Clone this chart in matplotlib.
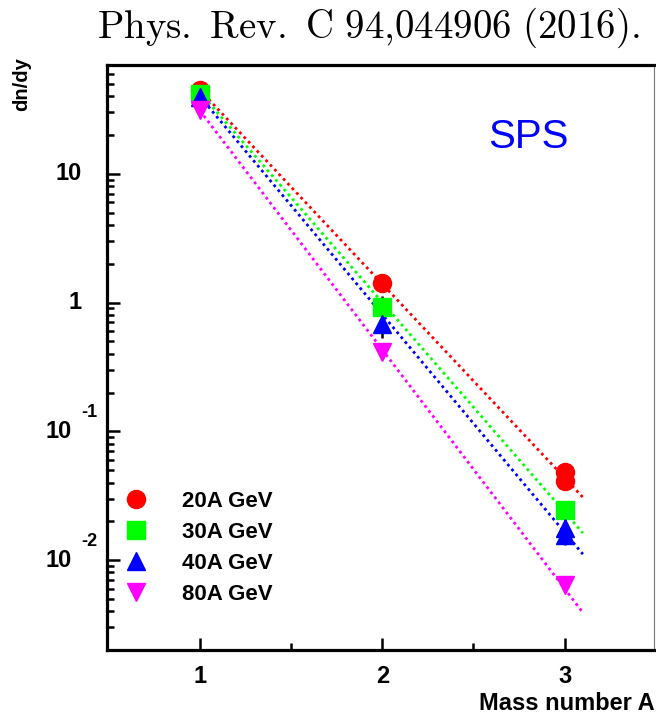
import matplotlib
matplotlib.use("Agg")
import matplotlib.pyplot as plt
from matplotlib.ticker import FixedLocator, NullFormatter, LogLocator
from matplotlib.transforms import offset_copy

plt.rcParams["font.family"] = ["Liberation Sans", "DejaVu Sans"]
plt.rcParams["mathtext.fontset"] = "cm"

# Light-nuclei yields at SPS energies
energies = ["20A GeV", "30A GeV", "40A GeV", "80A GeV"]
colors = ["#ff0000", "#00ff00", "#0000ff", "#ff00ff"]
markers = ["o", "s", "^", "v"]

mass_20 = [1, 2, 3, 3]
dndy_20 = [45.0, 1.43, 0.048, 0.041]
mass_30 = [1, 2, 3]
dndy_30 = [41.7, 0.93, 0.0243]
err_30 = [0.0, 0.19, 0.003]
mass_40 = [1, 2, 3, 3]
dndy_40 = [39.7, 0.687, 0.0176, 0.0156]
err_40 = [0.0, 0.155, 0.0046, 0.002]
mass_80 = [1, 2, 3]
dndy_80 = [31.4, 0.41, 0.0064]

# Exponential fits: value at the two ends of the fitted range
fit_range = [1.0, 3.1]
fit_20 = [44.7, 0.0307]
fit_30 = [42.7, 0.0162]
fit_40 = [39.8, 0.0111]
fit_80 = [30.9, 0.0039]

masses = [mass_20, mass_30, mass_40, mass_80]
values = [dndy_20, dndy_30, dndy_40, dndy_80]
errors = [None, err_30, err_40, None]
fits = [fit_20, fit_30, fit_40, fit_80]

fig = plt.figure(figsize=(6.56, 7.19), dpi=100)
ax = fig.add_axes([107 / 656, 1 - 650 / 719, 547 / 656, 585 / 719])
ax.set_yscale("log")
ax.set_xlim(0.49, 3.49)
ax.set_ylim(2e-3, 70)

for fit, c in zip(fits, colors):
    ax.plot(fit_range, fit, color=c, lw=2.0, ls=(0, (1.0, 1.3)), zorder=2)

handles = []
for m, v, e, c, mk, lab in zip(masses, values, errors, colors, markers, energies):
    if e is not None:
        ax.errorbar(m, v, yerr=e, fmt="none", ecolor="black", elinewidth=1.8,
                    capsize=0, zorder=3)
    h, = ax.plot(m, v, ls="none", marker=mk, ms=13, color=c, mec=c,
                 label=lab, zorder=4)
    handles.append(h)

# Frame
for side in ["left", "bottom", "top"]:
    ax.spines[side].set_linewidth(2.3)
    ax.spines[side].set_color("black")
ax.spines["right"].set_linewidth(0.8)
ax.spines["right"].set_color("#777777")

ax.xaxis.set_major_locator(FixedLocator([1, 2, 3]))
ax.xaxis.set_minor_locator(FixedLocator([1.5, 2.5]))
ax.yaxis.set_major_locator(LogLocator(base=10, numticks=10))
ax.yaxis.set_minor_locator(LogLocator(base=10, subs=range(2, 10), numticks=20))
ax.yaxis.set_minor_formatter(NullFormatter())
ax.tick_params(which="both", direction="in", top=False, right=False,
               width=1.8, color="black")
ax.tick_params(which="major", length=9)
ax.tick_params(which="minor", length=5)
ax.tick_params(axis="x", which="major", labelsize=17, pad=11)
ax.set_xticklabels(["1", "2", "3"], fontweight="bold")

# y tick labels in the 10 / 10^-n style
ax.set_yticklabels([])
ytr = ax.get_yaxis_transform()
for val, exp in [(10, 1), (1, 0), (0.1, -1), (0.01, -2)]:
    if exp >= 0:
        ax.text(-25 / 547, val, "10" if exp == 1 else "1", transform=ytr,
                ha="right", va="center", fontsize=17, fontweight="bold")
    else:
        ax.text(-35 / 547, val, "10", transform=ytr, ha="right", va="center",
                fontsize=17, fontweight="bold")
        t = ax.text(-10 / 547, val, str(exp), fontsize=13, fontweight="bold",
                    ha="right", va="center")
        t.set_transform(offset_copy(ytr, fig=fig, x=0, y=19, units="dots"))

fig.text(22 / 656, 1 - 57 / 719, "dn/dy", rotation=90, ha="center", va="top",
         fontsize=14.5, fontweight="bold")
fig.text(655 / 656, 1 - 715 / 719, "Mass number A", ha="right", va="bottom",
         fontsize=17, fontweight="bold")

ax.text(0.771, 0.877, "SPS", transform=ax.transAxes, ha="center", va="center",
        fontsize=29, color="#0000ff")

fig.text(640 / 656, 1 - 38 / 719,
         r"$\mathrm{Phys.\ Rev.\ C\ 94{,}044906\ (2016).}$",
         ha="right", va="baseline", fontsize=28)

ax.legend(handles=handles, loc="upper left", bbox_to_anchor=(0.032, 0.272),
          frameon=False, handlelength=1.0, handletextpad=1.6,
          labelspacing=0.45, borderpad=0, borderaxespad=0, numpoints=1,
          prop={"weight": "bold", "size": 16})

fig.savefig("out.png", dpi=100)
